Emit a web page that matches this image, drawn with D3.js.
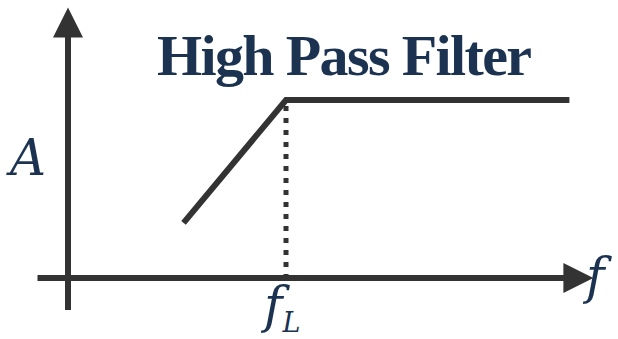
<!DOCTYPE html>
<html>
<head>
<meta charset="utf-8">
<script src="https://cdn.jsdelivr.net/npm/d3@7"></script>
<style>
  body { margin: 0; background: #fff; }
  svg { display: block; }
</style>
</head>
<body>
<svg width="618" height="339"></svg>
<script>
// response curve (frequency relative to cutoff, amplitude relative to pass level)
const freq = [0.53, 1, 2.3];
const amp = [0.31, 1, 1];
const cutoff = 1;
const axisX = [-0.14, 2.41];
const axisY = [-0.18, 1.52];

const title = 'High Pass Filter';
const ink = '#333333';
const navy = '#1b3350';
const mathFont = 'DejaVu Serif, serif';

const svg = d3.select('svg');

// ---- scales
const x = d3.scaleLinear().domain([0, 1]).range([68, 286]);
const y = d3.scaleLinear().domain([0, 1]).range([278, 100]);

// ---- axes
svg.append('line')
  .attr('x1', x(axisX[0])).attr('x2', x(axisX[1]) - 26)
  .attr('y1', y(0)).attr('y2', y(0))
  .attr('stroke', ink).attr('stroke-width', 6);

svg.append('path')
  .attr('d', `M${x(axisX[1])},${y(0)} L${x(axisX[1]) - 30},${y(0) - 15} L${x(axisX[1]) - 30},${y(0) + 15}Z`)
  .attr('fill', ink);

svg.append('line')
  .attr('x1', x(0)).attr('x2', x(0))
  .attr('y1', y(axisY[0])).attr('y2', y(axisY[1]) + 26)
  .attr('stroke', ink).attr('stroke-width', 6);

svg.append('path')
  .attr('d', `M${x(0)},${y(axisY[1])} L${x(0) - 15},${y(axisY[1]) + 30} L${x(0) + 15},${y(axisY[1]) + 30}Z`)
  .attr('fill', ink);

// ---- cutoff marker
svg.append('line')
  .attr('x1', x(cutoff)).attr('x2', x(cutoff))
  .attr('y1', y(1) + 6).attr('y2', y(0))
  .attr('stroke', ink).attr('stroke-width', 5)
  .attr('stroke-dasharray', '5,7');

// ---- response
const pts = freq.map((f, i) => ({ f, a: amp[i] }));
svg.append('path')
  .datum(pts)
  .attr('d', d3.line().x(d => x(d.f)).y(d => y(d.a)))
  .attr('fill', 'none')
  .attr('stroke', ink)
  .attr('stroke-width', 6)
  .attr('stroke-linejoin', 'miter');

// ---- texts
svg.append('text')
  .attr('x', 157).attr('y', 75)
  .attr('font-family', 'Liberation Serif, serif')
  .attr('font-weight', 'bold')
  .attr('font-size', 58)
  .attr('textLength', 375)
  .attr('fill', navy)
  .text(title);

svg.append('text')
  .attr('x', 10).attr('y', 175)
  .attr('font-family', mathFont)
  .attr('font-style', 'italic')
  .attr('font-size', 50)
  .attr('fill', navy)
  .text('A');

const fl = svg.append('text')
  .attr('x', 264).attr('y', 322)
  .attr('font-family', mathFont)
  .attr('font-style', 'italic')
  .attr('font-size', 50)
  .attr('fill', navy);
fl.append('tspan').text('f');
fl.append('tspan').attr('font-size', 27).attr('dy', 10).attr('dx', 0).text('L');

svg.append('text')
  .attr('x', 586).attr('y', 293)
  .attr('font-family', mathFont)
  .attr('font-style', 'italic')
  .attr('font-size', 50)
  .attr('fill', navy)
  .text('f');
</script>
</body>
</html>
